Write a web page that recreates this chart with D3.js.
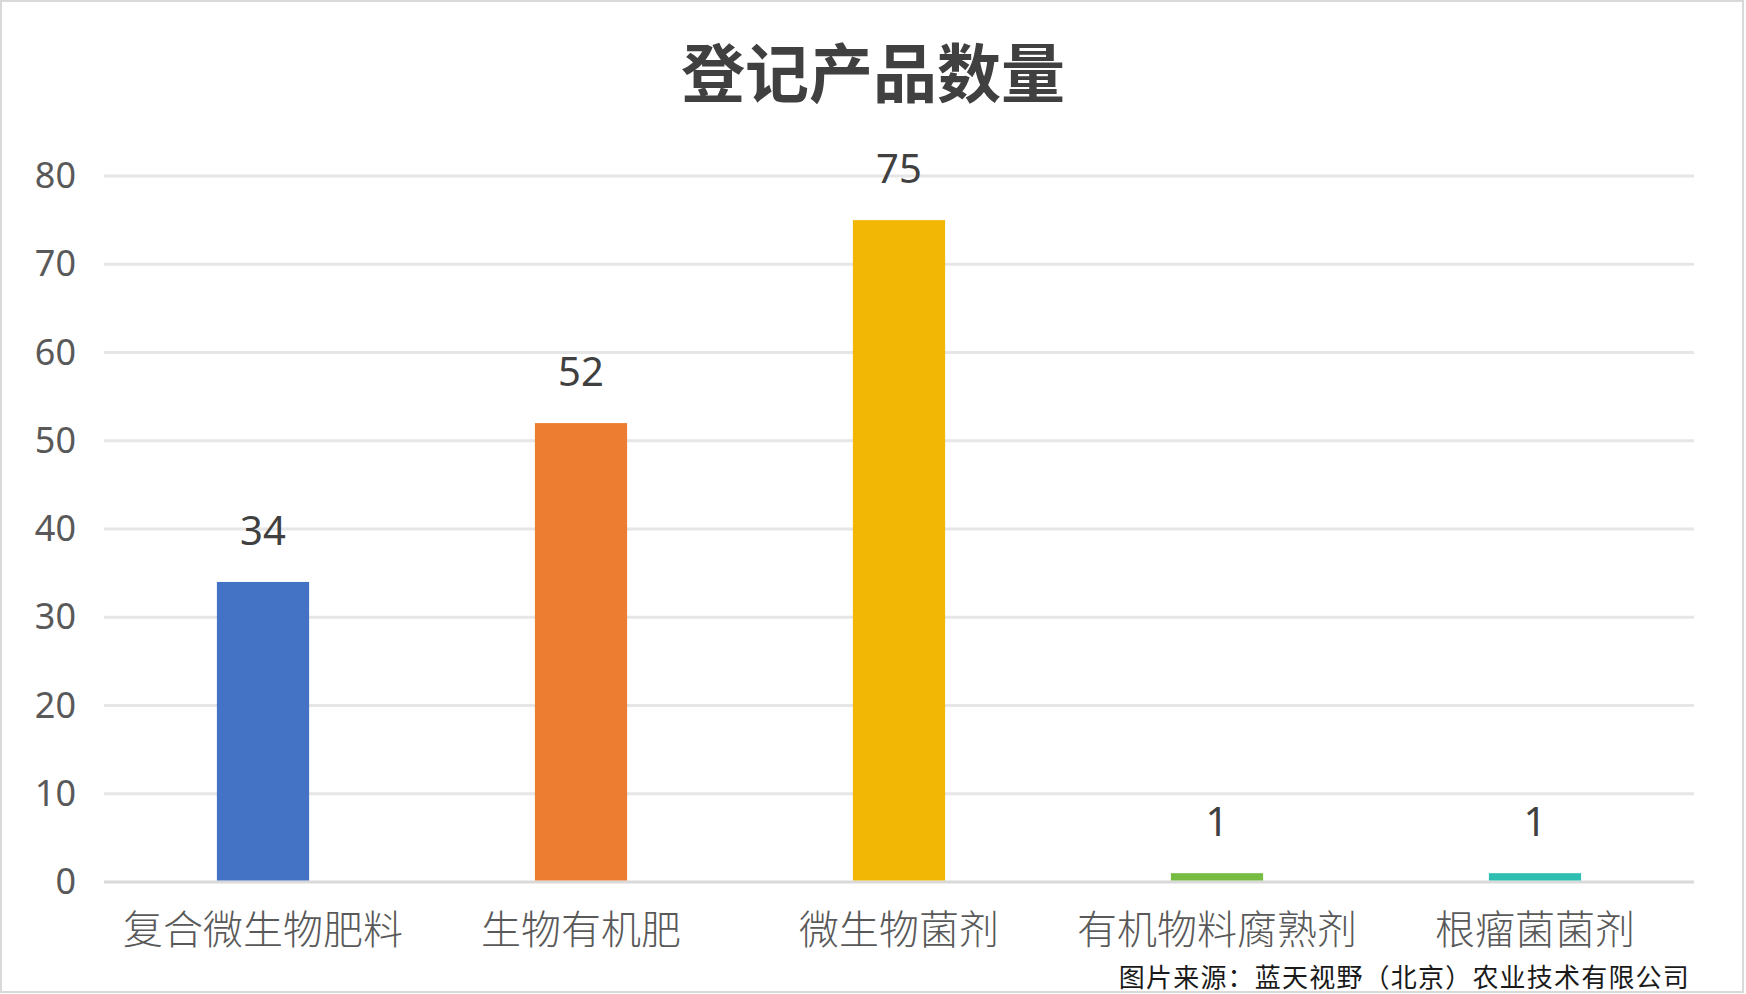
<!DOCTYPE html>
<html lang="zh">
  <head>
    <meta charset="UTF-8" />
    <title>登记产品数量</title>
    <script src="https://d3js.org/d3.v7.min.js"></script>
    <style>
      html, body { margin: 0; padding: 0; background: #fff; }
      svg { display: block; }
    </style>
  </head>
  <body>
    <svg width="1746" height="994"></svg>
    <script>
      // 数据
      const categories = ["复合微生物肥料", "生物有机肥", "微生物菌剂", "有机物料腐熟剂", "根瘤菌菌剂"];
      const values = [34, 52, 75, 1, 1];
      const colors = ["#4472C4", "#ED7D31", "#F2B705", "#76BC43", "#2FBFB2"];
      const yTicks = [0, 10, 20, 30, 40, 50, 60, 70, 80];
      const title = "登记产品数量";
      const source = "图片来源：蓝天视野（北京）农业技术有限公司";

      const W = 1746, H = 994;
      const margin = { top: 176, right: 52, bottom: 112, left: 104 };
      const cjk = "'Noto Sans CJK SC', sans-serif";
      const num = "'Noto Sans', 'Open Sans', sans-serif";

      const svg = d3.select("svg");

      // 外框
      svg.append("rect")
        .attr("x", 1).attr("y", 1)
        .attr("width", W - 4).attr("height", H - 3)
        .attr("fill", "#fff")
        .attr("stroke", "#d9d9d9")
        .attr("stroke-width", 2);

      const x = d3.scaleBand()
        .domain(categories)
        .range([margin.left, W - margin.right])
        .paddingInner(0.71)
        .paddingOuter(0.355);

      const y = d3.scaleLinear()
        .domain([0, 80])
        .range([H - margin.bottom, margin.top]);

      // 网格线
      svg.append("g")
        .selectAll("line")
        .data(yTicks)
        .join("line")
        .attr("x1", margin.left)
        .attr("x2", W - margin.right)
        .attr("y1", d => y(d))
        .attr("y2", d => y(d))
        .attr("stroke", d => d === 0 ? "#d9d9d9" : "#e6e6e6")
        .attr("stroke-width", 3);

      // y 轴
      const yAxis = d3.axisLeft(y).tickValues(yTicks).tickSize(0).tickPadding(28);
      svg.append("g")
        .attr("transform", `translate(${margin.left},0)`)
        .call(yAxis)
        .call(g => g.select(".domain").remove())
        .selectAll("text")
        .attr("font-family", num)
        .attr("font-size", 36)
        .attr("fill", "#595959");

      // 柱子
      svg.append("g")
        .selectAll("rect")
        .data(values)
        .join("rect")
        .attr("x", (d, i) => x(categories[i]))
        .attr("y", d => y(d))
        .attr("width", x.bandwidth())
        .attr("height", d => y(0) - y(d) - 1.5)
        .attr("fill", (d, i) => colors[i]);

      // 数据标签
      svg.append("g")
        .selectAll("text")
        .data(values)
        .join("text")
        .attr("x", (d, i) => x(categories[i]) + x.bandwidth() / 2)
        .attr("y", d => y(d) - 37)
        .attr("text-anchor", "middle")
        .attr("font-family", num)
        .attr("font-size", 40)
        .attr("fill", "#404040")
        .text(d => d);

      // x 轴
      const xAxis = d3.axisBottom(x).tickSize(0).tickPadding(34);
      svg.append("g")
        .attr("transform", `translate(0,${y(0)})`)
        .call(xAxis)
        .call(g => g.select(".domain").remove())
        .selectAll("text")
        .attr("font-family", cjk)
        .attr("font-weight", 300)
        .attr("font-size", 40)
        .attr("fill", "#595959");

      // 标题
      svg.append("text")
        .attr("x", 873)
        .attr("y", 97)
        .attr("text-anchor", "middle")
        .attr("font-family", cjk)
        .attr("font-weight", 700)
        .attr("font-size", 64)
        .attr("fill", "#404040")
        .text(title);

      // 来源
      svg.append("text")
        .attr("x", 1690)
        .attr("y", 987)
        .attr("text-anchor", "end")
        .attr("font-family", cjk)
        .attr("font-size", 26)
        .attr("letter-spacing", 1.2)
        .attr("fill", "#1a1a1a")
        .text(source);
    </script>
  </body>
</html>
